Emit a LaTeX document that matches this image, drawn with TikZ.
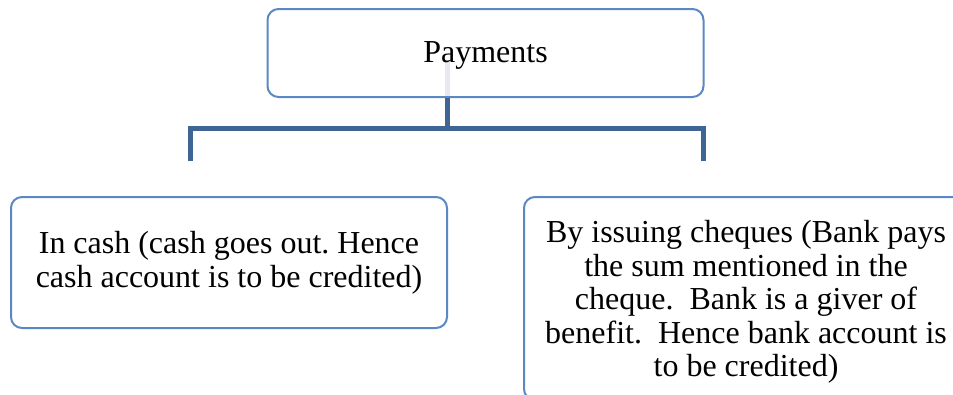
\documentclass[tikz,border=0pt]{standalone}
\usepackage{fontspec}
\setmainfont{Liberation Serif}
\frenchspacing
\definecolor{boxline}{HTML}{5B88C2}
\definecolor{connline}{HTML}{3F6594}
\definecolor{faintline}{HTML}{E6EAF0}
\tikzset{
  card/.style={draw=boxline, line width=2pt, rounded corners=11pt, inner sep=0pt},
  cardtext/.style={align=center, inner sep=0pt, font=\fontsize{32}{33.5}\selectfont},
  conn/.style={draw=connline, line width=5pt, line cap=butt, line join=miter},
  faint/.style={draw=faintline, line width=5pt}
}
\begin{document}
\begin{tikzpicture}[x=1pt,y=-1pt]
\useasboundingbox (0,0) rectangle (953,394);
\clip (0,0) rectangle (953,394);

% branch points of the connector tree
\coordinate (jl) at (190.5,128.5);
\coordinate (jm) at (447,128.5);
\coordinate (jr) at (703,128.5);
\coordinate (dl) at (190.5,160.5);
\coordinate (dr) at (703,160.5);

% faint stem showing through the top box
\draw[faint] (447,62) -- (447,97);

% boxes
\node[card, minimum width=436pt, minimum height=88pt] (top) at (485.5,53) {};
\node[card, minimum width=436pt, minimum height=131pt] (cash) at (229,262.5) {};
\node[card, minimum width=444pt, minimum height=203pt] (cheque) at (746,298.5) {};

% box texts
\node[cardtext] (toptext) at (485.5,55) {Payments};
\node[cardtext] (cashtext) at (229,263) {In cash (cash goes out. Hence\\cash account is to be credited)};
\node[cardtext] (chequetext) at (746,302) {By issuing cheques (Bank pays\\the sum mentioned in the\\cheque.\ \ Bank is a giver of\\benefit.\ \ Hence bank account is\\to be credited)};

% connectors
\draw[conn] (top.south -| jm) -- (jm);
\draw[conn] (dl) -- (jl) -- (jr) -- (dr);
\end{tikzpicture}
\end{document}
